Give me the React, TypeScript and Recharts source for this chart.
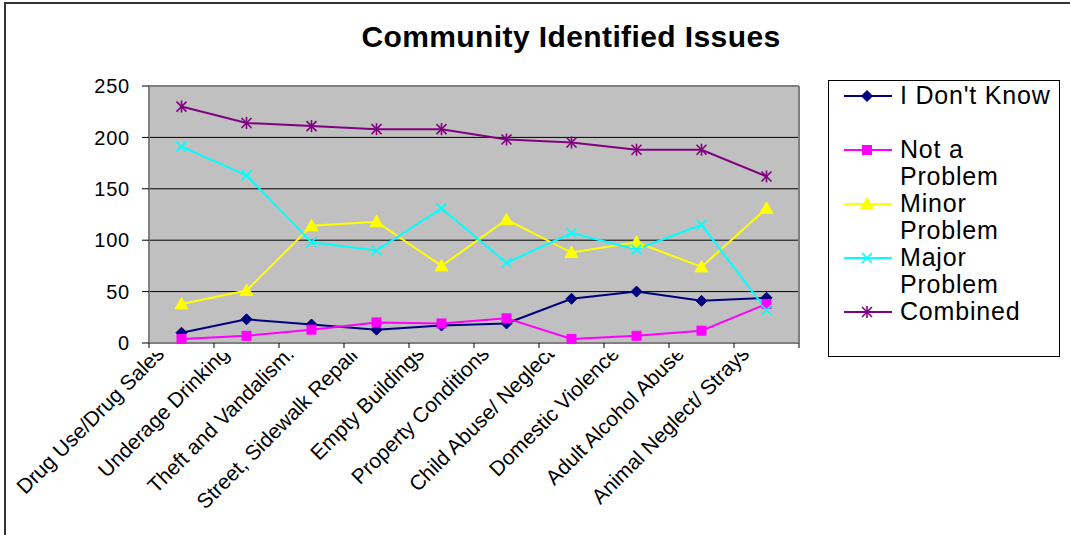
import React from 'react';
import { LineChart, Line, XAxis, YAxis, CartesianGrid, Legend, ReferenceLine } from 'recharts';

const categories = [
  'Drug Use/Drug Sales',
  'Underage Drinking',
  'Theft and Vandalism.',
  'Street, Sidewalk Repair',
  'Empty Buildings',
  'Property Conditions',
  'Child Abuse/ Neglect',
  'Domestic Violence',
  'Adult Alcohol Abuse',
  'Animal Neglect/ Strays',
];
const dontKnow = [10, 23, 18, 13, 17, 19, 43, 50, 41, 44];
const notAProblem = [4, 7, 13, 20, 19, 24, 4, 7, 12, 38];
const minorProblem = [38, 51, 114, 118, 75, 120, 88, 98, 74, 131];
const majorProblem = [191, 163, 98, 90, 131, 78, 107, 91, 115, 32];
const combined = [230, 214, 211, 208, 208, 198, 195, 188, 188, 162];
const yTicks = [0, 50, 100, 150, 200, 250];

const seriesNames = ["I Don't Know", 'Not a Problem', 'Minor Problem', 'Major Problem', 'Combined'];
const seriesKeys = ['dontKnow', 'notAProblem', 'minorProblem', 'majorProblem', 'combined'];
const seriesColors = ['#000080', '#FF00FF', '#FFFF00', '#00FFFF', '#800080'];
const seriesShapes = ['diamond', 'square', 'triangle', 'x', 'star'];

const data = categories.map((c, i) => ({
  name: c,
  dontKnow: dontKnow[i],
  notAProblem: notAProblem[i],
  minorProblem: minorProblem[i],
  majorProblem: majorProblem[i],
  combined: combined[i],
}));

const FONT = '"Liberation Sans", Arial, Helvetica, sans-serif';
const BAND = 65;

function Marker({ shape, color, cx, cy }: { shape: string; color: string; cx: number; cy: number }) {
  if (shape === 'diamond') {
    const s = 5.5;
    return <polygon points={`${cx},${cy - s} ${cx + s},${cy} ${cx},${cy + s} ${cx - s},${cy}`} fill={color} stroke={color} />;
  }
  if (shape === 'square') {
    const s = 4.5;
    return <rect x={cx - s} y={cy - s} width={2 * s} height={2 * s} fill={color} stroke={color} />;
  }
  if (shape === 'triangle') {
    return <polygon points={`${cx},${cy - 6.5} ${cx + 6.5},${cy + 5} ${cx - 6.5},${cy + 5}`} fill={color} stroke={color} />;
  }
  if (shape === 'x') {
    const s = 5;
    return (
      <g stroke={color} strokeWidth={1.6}>
        <line x1={cx - s} y1={cy - s} x2={cx + s} y2={cy + s} />
        <line x1={cx - s} y1={cy + s} x2={cx + s} y2={cy - s} />
      </g>
    );
  }
  const s = 5;
  return (
    <g stroke={color} strokeWidth={1.6}>
      <line x1={cx - s} y1={cy - s} x2={cx + s} y2={cy + s} />
      <line x1={cx - s} y1={cy + s} x2={cx + s} y2={cy - s} />
      <line x1={cx} y1={cy - s - 1} x2={cx} y2={cy + s + 1} />
    </g>
  );
}

const makeDot = (i: number) => (props: any) => {
  const { cx, cy, index } = props;
  if (cx == null || cy == null) return <g key={`d-${i}-${index}`} />;
  return (
    <g key={`d-${i}-${index}`}>
      <Marker shape={seriesShapes[i]} color={seriesColors[i]} cx={cx} cy={cy} />
    </g>
  );
};

const XTick = (props: any) => {
  const { x, y, payload, index } = props;
  const tx = x - 16;
  const ty = y + 12;
  const clipId = `xclip-${index}`;
  return (
    <g>
      <defs>
        <clipPath id={clipId}>
          <rect x={x - 400} y={y + 10} width={800} height={300} />
        </clipPath>
      </defs>
      <line x1={x - BAND / 2} y1={y} x2={x - BAND / 2} y2={y + 5} stroke="#000" />
      {index === categories.length - 1 && (
        <line x1={x + BAND / 2} y1={y} x2={x + BAND / 2} y2={y + 5} stroke="#000" />
      )}
      <g clipPath={`url(#${clipId})`}>
        <text x={tx} y={ty} transform={`rotate(-45, ${tx}, ${ty})`} textAnchor="end" fontSize={21} fontFamily={FONT} fill="#000">
          {payload.value}
        </text>
      </g>
    </g>
  );
};

const LegendContent = () => (
  <div style={{ fontFamily: FONT, fontSize: 25, lineHeight: '27px', color: '#000', paddingTop: 1, letterSpacing: 0.8 }}>
    {seriesNames.map((n, i) => (
      <div key={n} style={{ display: 'flex', height: 54 }}>
        <svg width={71} height={27} style={{ flex: '0 0 71px' }}>
          <line x1={15} y1={14} x2={63} y2={14} stroke={seriesColors[i]} strokeWidth={2} />
          <Marker shape={seriesShapes[i]} color={seriesColors[i]} cx={38} cy={14} />
        </svg>
        <div style={{ width: 156 }}>{n}</div>
      </div>
    ))}
  </div>
);

export default function App() {
  return (
    <div style={{ position: 'absolute', left: 0, top: 0, width: 1070, height: 535, background: '#fff' }}>
      <div style={{ position: 'absolute', left: 4, top: 2, width: 1066, height: 533, borderTop: '2px solid #333', borderLeft: '2px solid #333', boxSizing: 'border-box' }} />
      <div style={{ position: 'absolute', left: 0, top: 22, width: 1142, textAlign: 'center', fontFamily: FONT, fontWeight: 'bold', fontSize: 30, lineHeight: '30px', color: '#000', letterSpacing: 0.4 }}>
        Community Identified Issues
      </div>
      <div style={{ position: 'absolute', left: 0, top: 0 }}>
        <LineChart width={1070} height={535} data={data} margin={{ top: 86, right: 270, bottom: 42, left: 0 }}>
          <CartesianGrid vertical={false} fill="#C0C0C0" stroke="#000" strokeOpacity={1} />
          <XAxis
            dataKey="name"
            height={150}
            interval={0}
            padding={{ left: BAND / 2, right: BAND / 2 }}
            tickLine={false}
            tickSize={0}
            tickMargin={0}
            tick={<XTick />}
            axisLine={{ stroke: '#808080', strokeWidth: 2 }}
          />
          <YAxis
            width={149}
            domain={[0, 250]}
            ticks={yTicks}
            interval={0}
            tickSize={7}
            tickMargin={12}
            tickLine={{ stroke: '#000' }}
            axisLine={{ stroke: '#808080', strokeWidth: 2 }}
            tick={{ fontSize: 20, fontFamily: FONT, fill: '#000', letterSpacing: 0.8 }}
          />
          <YAxis yAxisId="right" orientation="right" width={1} domain={[0, 250]} tick={false} tickLine={false} axisLine={{ stroke: '#808080', strokeWidth: 2 }} />
          <ReferenceLine y={250} stroke="#808080" strokeWidth={2} />
          <Legend
            layout="vertical"
            align="center"
            verticalAlign="middle"
            content={<LegendContent />}
            wrapperStyle={{ position: 'absolute', left: 828, top: 80, width: 232, height: 277, border: '1px solid #000', boxSizing: 'border-box', background: '#fff' }}
          />
          {seriesKeys.map((k, i) => (
            <Line
              key={k}
              dataKey={k}
              name={seriesNames[i]}
              stroke={seriesColors[i]}
              strokeWidth={2}
              dot={makeDot(i)}
              activeDot={false}
              isAnimationActive={false}
            />
          ))}
        </LineChart>
      </div>
    </div>
  );
}
